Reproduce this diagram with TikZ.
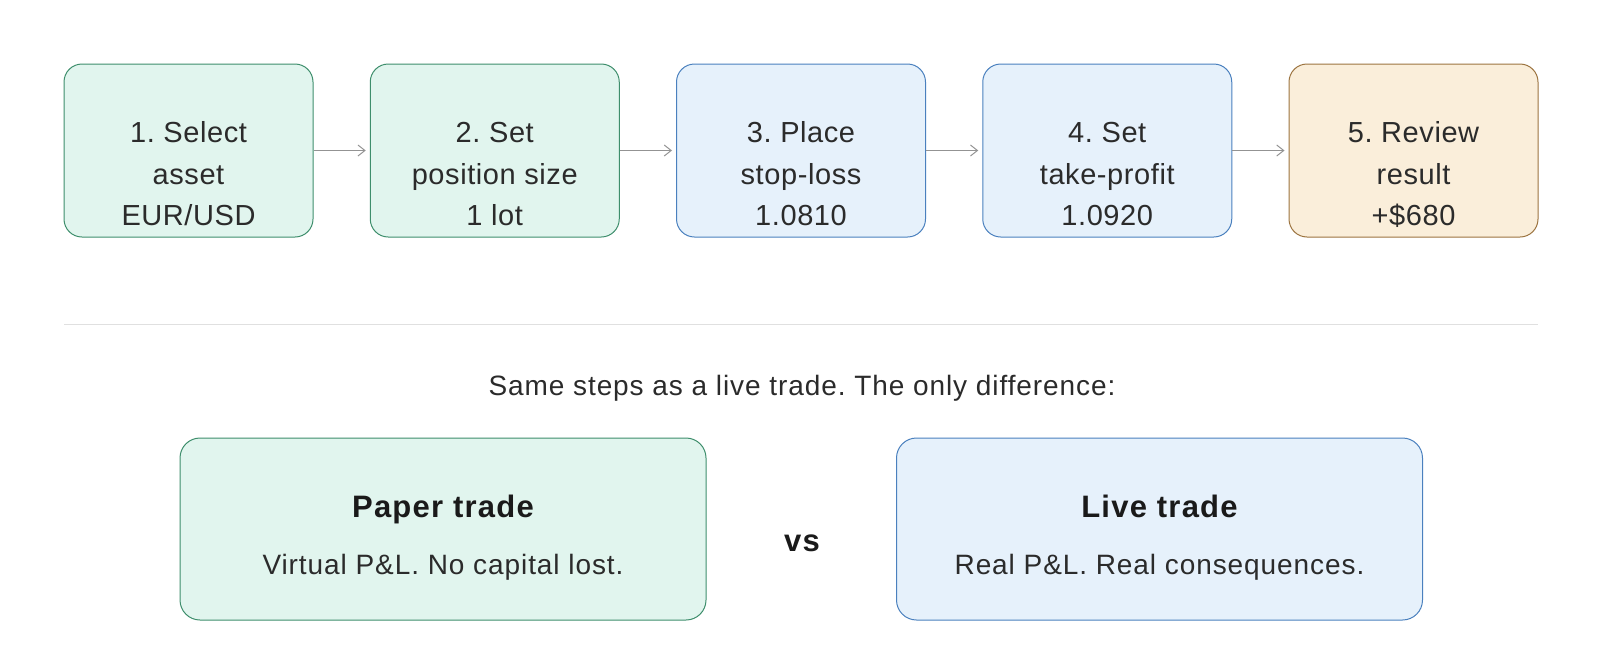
\documentclass[tikz,border=0pt]{standalone}
\usepackage{fontspec}
\setmainfont{Liberation Sans}
\newfontfamily\stepfont{Liberation Sans}[LetterSpace=2]
\newfontfamily\subfont{Liberation Sans}[LetterSpace=3.3]
\newfontfamily\headfont{Liberation Sans}[LetterSpace=4]
\usetikzlibrary{arrows.meta}
\definecolor{gfill}{HTML}{E1F5EE}
\definecolor{gdraw}{HTML}{3E8E6C}
\definecolor{bfill}{HTML}{E6F1FB}
\definecolor{bdraw}{HTML}{4A80BE}
\definecolor{ofill}{HTML}{FAEEDA}
\definecolor{odraw}{HTML}{9C7440}
\definecolor{txt}{HTML}{2B2B2B}
\definecolor{htxt}{HTML}{1A1A1A}
\newcommand{\steplines}[3]{\begin{tabular}[t]{@{}c@{}}#1\\#2\\[-1pt]#3\end{tabular}}
\tikzset{
  stepbox/.style={rounded corners=18pt, line width=1pt, minimum width=249pt, minimum height=173pt, inner sep=0pt},
  steptext/.style={anchor=base, inner sep=0pt, text=txt, font=\stepfont\fontsize{29}{42}\selectfont},
  gbox/.style={fill=gfill, draw=gdraw},
  bbox/.style={fill=bfill, draw=bdraw},
  obox/.style={fill=ofill, draw=odraw},
  bigbox/.style={rounded corners=20pt, line width=1pt, minimum width=526pt, minimum height=182pt, inner sep=0pt},
  flow/.style={draw=gray!85, line width=1pt, -{Straight Barb[length=7pt,width=11pt]}, shorten >=4pt},
  head/.style={anchor=base, inner sep=0pt, font=\headfont\bfseries\fontsize{31}{36}\selectfont, text=htxt},
  sub/.style={anchor=base, inner sep=0pt, font=\subfont\fontsize{28}{34}\selectfont, text=txt},
}
\begin{document}
\frenchspacing
\begin{tikzpicture}[x=1pt,y=-1pt]
\useasboundingbox (0,0) rectangle (1600,662);
\node[stepbox,gbox] (s1) at (188.5,150.5) {};
\node[stepbox,gbox] (s2) at (494.75,150.5) {};
\node[stepbox,bbox] (s3) at (801,150.5) {};
\node[stepbox,bbox] (s4) at (1107.25,150.5) {};
\node[stepbox,obox] (s5) at (1413.5,150.5) {};
\node[steptext] (t1) at (188.5,142) {\steplines{1. Select}{asset}{EUR/USD}};
\node[steptext] (t2) at (494.75,142) {\steplines{2. Set}{position size}{1 lot}};
\node[steptext] (t3) at (801,142) {\steplines{3. Place}{stop-loss}{1.0810}};
\node[steptext] (t4) at (1107.25,142) {\steplines{4. Set}{take-profit}{1.0920}};
\node[steptext] (t5) at (1413.5,142) {\steplines{5. Review}{result}{+\$680}};
\draw[flow] (s1) -- (s2);
\draw[flow] (s2) -- (s3);
\draw[flow] (s3) -- (s4);
\draw[flow] (s4) -- (s5);
\coordinate (dl) at (64,324);
\coordinate (dr) at (1538,324);
\draw[black!12, line width=1pt] (dl) -- (dr);
\node[sub] (cap) at (802,395) {Same steps as a live trade. The only difference:};
\node[bigbox,gbox] (paper) at (443,529) {};
\node[bigbox,bbox] (live) at (1159.5,529) {};
\node[head] (ph) at (443,517) {Paper trade};
\node[sub] (ps) at (443,574) {Virtual P\&L. No capital lost.};
\node[head] (lh) at (1159.5,517) {Live trade};
\node[sub] (ls) at (1159.5,574) {Real P\&L. Real consequences.};
\node[head] (vs) at (802,551.5) {vs};
\end{tikzpicture}
\end{document}
